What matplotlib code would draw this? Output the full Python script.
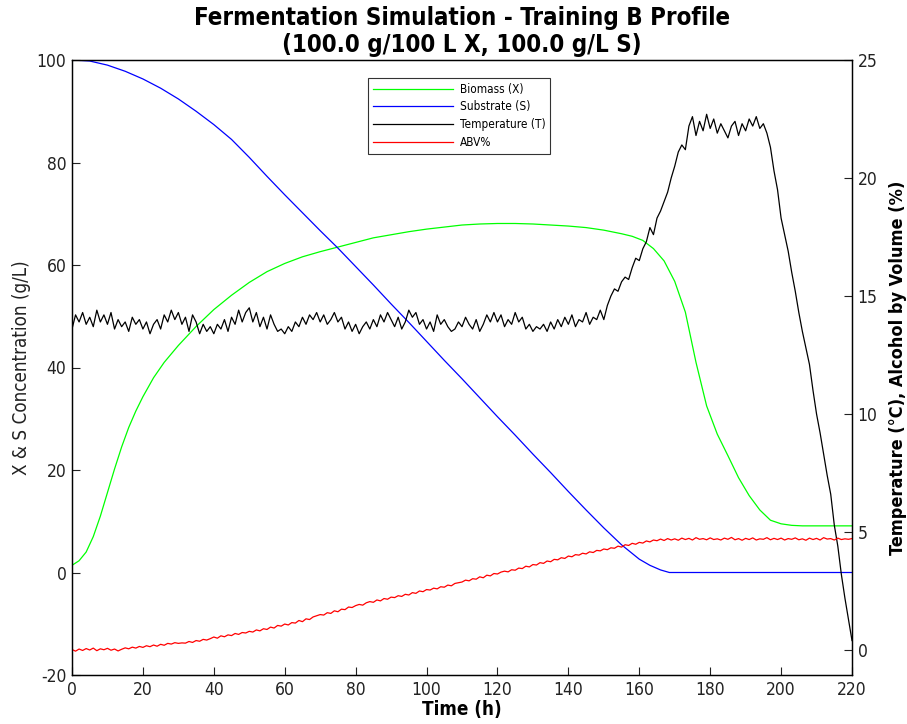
import matplotlib
matplotlib.use("Agg")
import matplotlib.pyplot as plt
import numpy as np

plt.rcParams["axes.unicode_minus"] = False
plt.rcParams["font.family"] = "DejaVu Sans"
plt.rcParams["font.stretch"] = "condensed"

# ---------------- data ----------------
time_h = list(range(0, 221))

temperature = [
    13.6, 14.2, 13.9, 14.3, 13.8, 14.1, 13.7, 14.4, 13.9, 14.2,
    13.8, 14.3, 13.6, 14.0, 13.7, 13.9, 13.5, 14.1, 13.8, 14.0,
    13.6, 13.9, 13.4, 13.8, 14.0, 13.6, 14.2, 13.9, 14.4, 14.0,
    14.3, 13.8, 14.1, 13.5, 14.2, 13.9, 13.4, 13.8, 13.5, 13.7,
    13.4, 13.8, 13.6, 14.0, 13.5, 14.1, 13.8, 14.4, 13.9, 14.3,
    14.5, 13.9, 14.3, 13.7, 14.1, 13.6, 14.2, 13.8, 13.5, 13.6,
    13.4, 13.7, 13.5, 13.9, 13.7, 14.1, 13.8, 14.2, 14.0, 14.3,
    13.9, 14.2, 13.8, 14.0, 14.3, 13.9, 14.1, 13.6, 13.9, 13.5,
    13.8, 13.4, 13.7, 13.9, 13.6, 14.0, 13.7, 14.2, 13.9, 14.3,
    14.0, 13.7, 14.1, 13.6, 13.9, 14.4, 14.1, 14.3, 13.8, 14.0,
    13.6, 13.9, 13.5, 14.2, 13.8, 14.0, 13.7, 13.5, 13.6, 13.9,
    13.7, 14.1, 13.8, 13.6, 14.0, 13.5, 13.8, 14.2, 13.9, 14.3,
    13.9, 14.2, 13.7, 14.0, 13.8, 14.3, 13.9, 14.1, 13.6, 13.8,
    13.5, 13.7, 13.6, 13.8, 13.5, 13.9, 13.6, 14.0, 13.7, 14.1,
    13.8, 14.2, 13.7, 14.0, 13.9, 14.3, 13.8, 14.1, 14.0, 14.4,
    14.0, 14.6, 15.0, 15.3, 15.2, 15.6, 15.8, 15.7, 16.2, 16.6,
    16.5, 17.0, 17.3, 17.9, 17.6, 18.3, 18.6, 19.0, 19.4, 20.0,
    20.5, 21.1, 21.4, 21.2, 22.2, 22.6, 21.8, 22.4, 22.0, 22.7,
    22.1, 22.5, 21.9, 22.3, 22.0, 21.7, 22.2, 22.4, 21.8, 22.3,
    22.0, 22.5, 22.2, 22.6, 22.1, 22.3, 21.9, 21.3, 20.3, 19.5,
    18.3, 17.6, 16.9, 16.0, 15.2, 14.3, 13.5, 12.8, 12.1, 11.0,
    10.0, 9.2, 8.3, 7.4, 6.6, 5.3, 4.4, 3.2, 2.2, 1.3,
    0.4,
]

abv = [
    0.02, -0.05, 0.04, -0.02, 0.06, 0.00, 0.08, -0.03, 0.05, 0.01,
    0.07, -0.01, 0.04, -0.04, 0.03, 0.09, 0.05, 0.12, 0.08, 0.15,
    0.11, 0.18, 0.14, 0.21, 0.16, 0.24, 0.20, 0.28, 0.25, 0.31,
    0.28, 0.30, 0.29, 0.36, 0.32, 0.40, 0.37, 0.45, 0.42, 0.48,
    0.55, 0.50, 0.60, 0.56, 0.64, 0.61, 0.70, 0.66, 0.74, 0.72,
    0.79, 0.76, 0.85, 0.81, 0.90, 0.87, 0.97, 0.93, 1.04, 1.01,
    1.10, 1.06, 1.16, 1.14, 1.25, 1.20, 1.32, 1.29, 1.40, 1.45,
    1.50, 1.48, 1.58, 1.55, 1.66, 1.62, 1.73, 1.71, 1.82, 1.80,
    1.88, 1.93, 1.90, 2.00, 2.05, 2.02, 2.12, 2.08, 2.18, 2.15,
    2.24, 2.22, 2.30, 2.27, 2.36, 2.33, 2.43, 2.40, 2.50, 2.47,
    2.56, 2.54, 2.62, 2.59, 2.68, 2.66, 2.75, 2.72, 2.82, 2.85,
    2.88, 2.96, 2.93, 3.02, 3.00, 3.10, 3.06, 3.17, 3.14, 3.24,
    3.22, 3.30, 3.34, 3.31, 3.40, 3.38, 3.47, 3.45, 3.55, 3.52,
    3.62, 3.60, 3.70, 3.67, 3.77, 3.74, 3.84, 3.82, 3.91, 3.88,
    3.98, 3.95, 4.04, 4.02, 4.10, 4.07, 4.16, 4.13, 4.22, 4.20,
    4.28, 4.25, 4.33, 4.31, 4.40, 4.36, 4.46, 4.43, 4.52, 4.48,
    4.56, 4.53, 4.62, 4.58, 4.66, 4.63, 4.70, 4.64, 4.72, 4.66,
    4.71, 4.65, 4.74, 4.68, 4.73, 4.66, 4.76, 4.69, 4.72, 4.67,
    4.75, 4.68, 4.71, 4.66, 4.74, 4.69, 4.77, 4.67, 4.72, 4.65,
    4.73, 4.68, 4.75, 4.66, 4.71, 4.69, 4.76, 4.67, 4.73, 4.68,
    4.74, 4.66, 4.72, 4.69, 4.75, 4.67, 4.71, 4.65, 4.74, 4.68,
    4.73, 4.66, 4.76, 4.70, 4.72, 4.66, 4.74, 4.68, 4.71, 4.69,
    4.72,
]

biomass_time = [0, 2, 4, 6, 8, 10, 12, 14, 16, 18, 20, 23, 26, 30, 35, 40,
                45, 50, 55, 60, 65, 70, 75, 80, 85, 90, 95, 100, 105, 110,
                115, 120, 125, 130, 135, 140, 145, 150, 155, 158, 161, 164,
                167, 170, 173, 176, 179, 182, 185, 188, 191, 194, 197, 200,
                203, 206, 210, 215, 220]
biomass = [1.4, 2.3, 4.0, 7.0, 11.0, 15.6, 20.2, 24.5, 28.3, 31.5, 34.3,
           38.0, 41.0, 44.3, 48.0, 51.3, 54.1, 56.6, 58.7, 60.3, 61.6, 62.6,
           63.5, 64.4, 65.3, 65.9, 66.5, 67.0, 67.4, 67.8, 68.0, 68.1, 68.1,
           68.0, 67.8, 67.6, 67.3, 66.8, 66.1, 65.6, 64.8, 63.2, 60.8, 56.8,
           50.8, 41.0, 32.5, 27.0, 22.8, 18.5, 15.0, 12.2, 10.2, 9.5, 9.2,
           9.1, 9.1, 9.1, 9.1]

substrate_time = [0, 5, 10, 15, 20, 25, 30, 35, 40, 45, 50, 55, 60, 65, 70,
                  75, 80, 85, 90, 95, 100, 105, 110, 115, 120, 125, 130, 135,
                  140, 145, 150, 155, 160, 163, 166, 168.5, 220]
substrate = [100.0, 99.8, 99.0, 97.8, 96.3, 94.5, 92.4, 90.0, 87.4, 84.5,
             81.0, 77.3, 73.7, 70.2, 66.7, 63.3, 59.7, 56.1, 52.4, 48.8,
             45.1, 41.4, 37.8, 34.1, 30.4, 26.8, 23.1, 19.5, 15.8, 12.2,
             8.7, 5.4, 2.6, 1.4, 0.5, 0.0, 0.0]

x_ticks = [0, 20, 40, 60, 80, 100, 120, 140, 160, 180, 200, 220]
left_ticks = [-20, 0, 20, 40, 60, 80, 100]
right_ticks = [0, 5, 10, 15, 20, 25]

# ---------------- plot ----------------
fig = plt.figure(figsize=(9.07, 7.24), dpi=100)
ax = fig.add_axes([72 / 907, 1 - 675 / 724, 780 / 907, 615 / 724])
ax2 = ax.twinx()

lw = 0.9
l1, = ax.plot(biomass_time, biomass, color=(0, 1, 0), lw=lw, label="Biomass (X)")
l2, = ax.plot(substrate_time, substrate, color=(0, 0, 1), lw=lw, label="Substrate (S)")
l3, = ax2.plot(time_h, temperature, color="black", lw=lw, label="Temperature (T)")
l4, = ax2.plot(time_h, abv, color=(1, 0, 0), lw=lw, label="ABV%")

ax.set_xlim(0, 220)
ax.set_ylim(-20, 100)
ax2.set_ylim(-1.06, 25)
ax.set_xticks(x_ticks)
ax.set_yticks(left_ticks)
ax2.set_yticks(right_ticks)

tick_fs = 12.5
ax.tick_params(axis="both", direction="in", length=6, width=0.8,
               labelsize=tick_fs, colors="#222222", top=False, right=False)
ax.tick_params(axis="y", pad=4)
ax.tick_params(axis="x", pad=4)
ax2.tick_params(axis="y", direction="in", length=6, width=0.8,
                labelsize=tick_fs, colors="#222222", pad=4)

for a in (ax, ax2):
    for s in a.spines.values():
        s.set_linewidth(0.9)
        s.set_color("black")

ax.set_xlabel("Time (h)", fontsize=13.5, fontweight="bold", labelpad=1)
ax.set_ylabel("X & S Concentration (g/L)", fontsize=13.5, labelpad=4,
              color="#222222")
ax2.set_ylabel("Temperature (°C), Alcohol by Volume (%)", fontsize=13,
               fontweight="bold", labelpad=8)

fig.text(462 / 907, 1 - 18 / 724, "Fermentation Simulation - Training B Profile",
         ha="center", va="center", fontsize=17.3, fontweight="bold")
fig.text(462 / 907, 1 - 45 / 724, "(100.0 g/100 L X, 100.0 g/L S)",
         ha="center", va="center", fontsize=17.3, fontweight="bold")

leg = ax.legend(handles=[l1, l2, l3, l4], loc="upper left",
                bbox_to_anchor=((368 - 72) / 780, 1 - 18 / 615),
                fontsize=8.5, frameon=True, fancybox=False, handlelength=6.8,
                borderpad=0.4, labelspacing=0.4, handletextpad=0.6,
                borderaxespad=0)
leg.get_frame().set_edgecolor("black")
leg.get_frame().set_linewidth(0.8)

fig.savefig("out.png", dpi=100)
